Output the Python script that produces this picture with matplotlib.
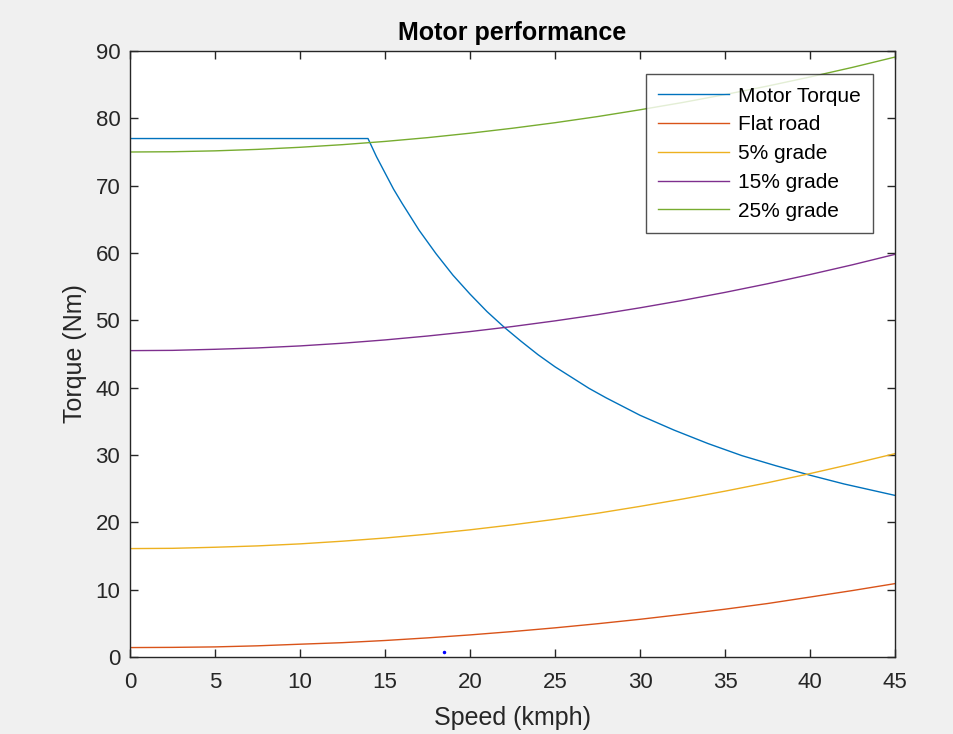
import matplotlib.pyplot as plt

plt.rcParams['font.family'] = ['Liberation Sans', 'DejaVu Sans']

# speeds (kmph) for load curves
speed = [0, 2.5, 5, 7.5, 10, 12.5, 15, 17.5, 20, 22.5, 25, 27.5, 30, 32.5, 35, 37.5, 40, 42.5, 45]
flat_road = [1.4, 1.43, 1.5, 1.66, 1.9, 2.13, 2.45, 2.84, 3.28, 3.78, 4.33, 4.94, 5.6, 6.33, 7.1, 7.94, 8.9, 9.87, 10.9]
grade_5 = [16.1, 16.14, 16.3, 16.5, 16.8, 17.2, 17.67, 18.24, 18.89, 19.63, 20.45, 21.35, 22.37, 23.46, 24.63, 25.88, 27.24, 28.68, 30.2]
grade_15 = [45.5, 45.54, 45.7, 45.9, 46.2, 46.6, 47.09, 47.67, 48.33, 49.08, 49.92, 50.84, 51.86, 52.96, 54.15, 55.43, 56.8, 58.25, 59.8]
grade_25 = [75.0, 75.04, 75.17, 75.39, 75.7, 76.09, 76.57, 77.13, 77.79, 78.53, 79.35, 80.26, 81.27, 82.35, 83.53, 84.79, 86.14, 87.57, 89.1]

# motor torque curve
motor_speed = [0, 14, 14.5, 15, 15.5, 16, 17, 18, 19, 20, 21, 22, 23, 24, 25, 26, 27, 28, 29, 30,
               32, 34, 36, 38, 40, 42, 45]
motor_torque = [77, 77, 74.3, 71.9, 69.5, 67.4, 63.4, 59.9, 56.7, 53.9, 51.3, 49.0, 46.9, 44.9, 43.1,
                41.5, 39.9, 38.5, 37.2, 35.9, 33.7, 31.7, 29.9, 28.4, 27.0, 25.7, 24.0]

# stray point
dot_x = [18.5]
dot_y = [0.7]

fig = plt.figure(figsize=(9.54, 7.34), dpi=100, facecolor='#f0f0f0')
ax = fig.add_axes([130/954, 1-657/734, 765/954, 606/734])

ax.plot(motor_speed, motor_torque, color='#0072BD', lw=1.0, label='Motor Torque')
ax.plot(speed, flat_road, color='#D95319', lw=1.0, label='Flat road')
ax.plot(speed, grade_5, color='#EDB120', lw=1.0, label='5% grade')
ax.plot(speed, grade_15, color='#7E2F8E', lw=1.0, label='15% grade')
ax.plot(speed, grade_25, color='#77AC30', lw=1.0, label='25% grade')
ax.plot(dot_x, dot_y, '.', color='blue', markersize=3)

ax.set_xlim(0, 45)
ax.set_ylim(0, 90)
ax.set_xticks(range(0, 46, 5))
ax.set_yticks(range(0, 91, 10))
ax.tick_params(direction='in', top=True, right=True, length=6, width=1,
               labelsize=16, colors='#262626')
ax.tick_params(axis='x', pad=11)
ax.tick_params(axis='y', pad=7)
for sp in ax.spines.values():
    sp.set_color('#262626')
    sp.set_linewidth(1)

ax.set_xlabel('Speed (kmph)', fontsize=18, color='#262626', labelpad=9)
ax.set_ylabel('Torque (Nm)', fontsize=18, color='#262626', labelpad=6)
ax.set_title('Motor performance', fontsize=18, fontweight='bold', pad=8)

leg = ax.legend(loc='upper right', bbox_to_anchor=(0.971, 0.962), borderaxespad=0,
                fancybox=False, edgecolor='#262626', fontsize=15, handlelength=3.4,
                handletextpad=0.4, labelspacing=0.47, borderpad=0.6)
leg.get_frame().set_linewidth(1)

fig.savefig('out.png', dpi=100, facecolor=fig.get_facecolor())
